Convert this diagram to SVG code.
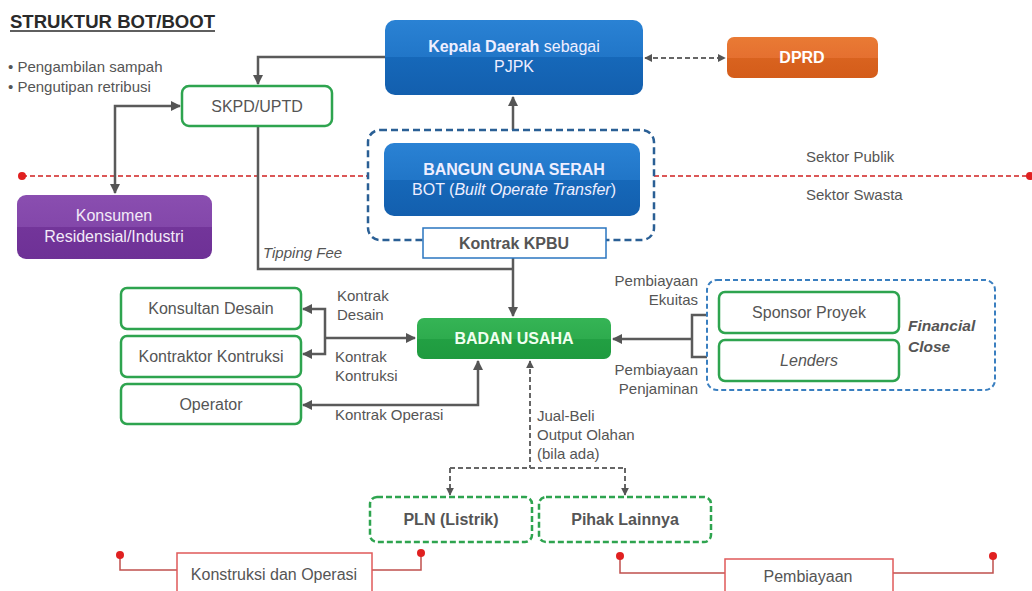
<svg xmlns="http://www.w3.org/2000/svg" width="1032" height="591" viewBox="0 0 1032 591">
<defs>
<linearGradient id="gBlue" x1="0" y1="0" x2="0" y2="1">
<stop offset="0" stop-color="#2a82d4"/><stop offset="0.5" stop-color="#2176c8"/><stop offset="0.5" stop-color="#1668b9"/><stop offset="1" stop-color="#135fae"/>
</linearGradient>
<linearGradient id="gOrange" x1="0" y1="0" x2="0" y2="1">
<stop offset="0" stop-color="#e97a34"/><stop offset="0.5" stop-color="#e57030"/><stop offset="0.5" stop-color="#d9631f"/><stop offset="1" stop-color="#d45c1a"/>
</linearGradient>
<linearGradient id="gPurple" x1="0" y1="0" x2="0" y2="1">
<stop offset="0" stop-color="#8a4eb0"/><stop offset="0.5" stop-color="#8347aa"/><stop offset="0.5" stop-color="#73359a"/><stop offset="1" stop-color="#6e3196"/>
</linearGradient>
<linearGradient id="gGreen" x1="0" y1="0" x2="0" y2="1">
<stop offset="0" stop-color="#35b455"/><stop offset="0.5" stop-color="#2eac4e"/><stop offset="0.5" stop-color="#22a043"/><stop offset="1" stop-color="#1f9a3f"/>
</linearGradient>
<marker id="ah" viewBox="0 0 10 10" refX="9" refY="5" markerWidth="4" markerHeight="4" orient="auto-start-reverse">
<path d="M0,0 L10,5 L0,10 z" fill="#555"/>
</marker>
<style>
text{font-family:"Liberation Sans",Arial,sans-serif;fill:#555;}
.conn{fill:none;stroke:#5a5a5a;stroke-width:2.5;}
.dconn{fill:none;stroke:#666;stroke-width:2;stroke-dasharray:5,3;}
.gbox{fill:#fff;stroke:#2ea44f;stroke-width:2.5;}
.gdash{fill:#fff;stroke:#2ea44f;stroke-width:2.5;stroke-dasharray:6,3;}
.rbox{fill:#fff;stroke:#e05a5a;stroke-width:1.5;}
.rline{fill:none;stroke:#c0504d;stroke-width:1.5;}
.lbl{font-size:15px;}
.nt{font-size:16px;text-anchor:middle;}
</style>
</defs>
<rect width="1032" height="591" fill="#fff"/>

<g id="title">
<text x="10" y="28" font-size="18" font-weight="bold" textLength="205" lengthAdjust="spacingAndGlyphs" style="fill:#2a2a2a">STRUKTUR BOT/BOOT</text>
<line x1="10" y1="31" x2="215" y2="31" stroke="#2a2a2a" stroke-width="1.5"/>
</g>
<g id="bullets">
<text x="8" y="72" class="lbl">• Pengambilan sampah</text>
<text x="8" y="92" class="lbl">• Pengutipan retribusi</text>
</g>

<g id="sector-divider">
<line x1="22" y1="176" x2="368" y2="176" stroke="#d02020" stroke-width="1.6" stroke-dasharray="5,3"/>
<line x1="654" y1="176" x2="1029" y2="176" stroke="#d02020" stroke-width="1.6" stroke-dasharray="5,3"/>
<circle cx="22" cy="176" r="4" fill="#e02020"/>
<circle cx="1030" cy="176" r="4" fill="#e02020"/>
<text x="806" y="162" class="lbl">Sektor Publik</text>
<text x="806" y="200" class="lbl">Sektor Swasta</text>
</g>

<g id="connectors">
<path class="conn" d="M385,57 H258 V84" marker-end="url(#ah)"/>
<path class="conn" d="M180,106 H115 V193" marker-start="url(#ah)" marker-end="url(#ah)"/>
<path class="conn" d="M513,130 V97" marker-end="url(#ah)"/>
<path class="conn" d="M258,126 V269 H513"/>
<path class="conn" d="M513,258 V316" marker-end="url(#ah)"/>
<path class="dconn" d="M645,58 H725" marker-start="url(#ah)" marker-end="url(#ah)"/>
<path class="conn" d="M325,338 H415" marker-end="url(#ah)"/>
<path class="conn" d="M303,309 H325 V354 H303" marker-start="url(#ah)" marker-end="url(#ah)"/>
<path class="conn" d="M478,361 V405 H303" marker-start="url(#ah)" marker-end="url(#ah)"/>
<path class="conn" d="M707,315 H692 V357 H707 M692,339 H613" marker-end="url(#ah)"/>
<path class="dconn" d="M530,361 V468" marker-start="url(#ah)"/>
<path class="dconn" d="M450,468 H625"/>
<path class="dconn" d="M450,468 V495" marker-end="url(#ah)"/>
<path class="dconn" d="M625,468 V495" marker-end="url(#ah)"/>
</g>

<g id="connector-labels">
<text x="263" y="258" class="lbl" font-style="italic">Tipping Fee</text>
<text x="337" y="301" class="lbl">Kontrak</text>
<text x="337" y="320" class="lbl">Desain</text>
<text x="335" y="362" class="lbl">Kontrak</text>
<text x="335" y="381" class="lbl">Kontruksi</text>
<text x="335" y="420" class="lbl">Kontrak Operasi</text>
<text x="537" y="421" class="lbl">Jual-Beli</text>
<text x="537" y="440" class="lbl">Output Olahan</text>
<text x="537" y="459" class="lbl">(bila ada)</text>
<text x="698" y="286" class="lbl" text-anchor="end">Pembiayaan</text>
<text x="698" y="305" class="lbl" text-anchor="end">Ekuitas</text>
<text x="698" y="375" class="lbl" text-anchor="end">Pembiayaan</text>
<text x="698" y="394" class="lbl" text-anchor="end">Penjaminan</text>
</g>

<g id="kepala-daerah">
<rect x="385" y="20" width="258" height="75" rx="10" fill="url(#gBlue)"/>
<text x="514" y="52" class="nt" style="fill:#eef"><tspan font-weight="bold">Kepala Daerah</tspan> sebagai</text>
<text x="514" y="72" class="nt" style="fill:#eef">PJPK</text>
</g>

<g id="dprd">
<rect x="727" y="37" width="151" height="41" rx="7" fill="url(#gOrange)"/>
<text x="802" y="63" class="nt" font-weight="bold" style="fill:#fff">DPRD</text>
</g>

<g id="skpd">
<rect x="182" y="86" width="150" height="40" rx="7" class="gbox"/>
<text x="257" y="112" class="nt">SKPD/UPTD</text>
</g>

<g id="konsumen">
<rect x="17" y="195" width="195" height="64" rx="9" fill="url(#gPurple)"/>
<text x="114" y="221" class="nt" style="fill:#f3eaf8">Konsumen</text>
<text x="114" y="242" class="nt" style="fill:#f3eaf8">Residensial/Industri</text>
</g>

<g id="bot">
<rect x="368" y="130" width="286" height="110" rx="12" fill="none" stroke="#2a5f95" stroke-width="2.5" stroke-dasharray="7,4"/>
<rect x="384" y="143" width="256" height="73" rx="10" fill="url(#gBlue)"/>
<text x="514" y="175" class="nt" font-weight="bold" style="fill:#eef">BANGUN GUNA SERAH</text>
<text x="514" y="195" class="nt" style="fill:#eef">BOT (<tspan font-style="italic">Built Operate Transfer</tspan>)</text>
</g>

<g id="kontrak-kpbu">
<rect x="423" y="228" width="183" height="30" fill="#fff" stroke="#2a76c0" stroke-width="1.5"/>
<text x="514" y="249" class="nt" font-weight="bold">Kontrak KPBU</text>
</g>

<g id="badan-usaha">
<rect x="417" y="318" width="194" height="41" rx="7" fill="url(#gGreen)"/>
<text x="514" y="344" class="nt" font-weight="bold" style="fill:#f0fff0">BADAN USAHA</text>
</g>

<g id="konsultan-desain">
<rect x="121" y="288" width="180" height="41" rx="6" class="gbox"/>
<text x="211" y="314" class="nt">Konsultan Desain</text>
</g>
<g id="kontraktor">
<rect x="121" y="336" width="180" height="41" rx="6" class="gbox"/>
<text x="211" y="362" class="nt">Kontraktor Kontruksi</text>
</g>
<g id="operator">
<rect x="121" y="384" width="180" height="40" rx="6" class="gbox"/>
<text x="211" y="410" class="nt">Operator</text>
</g>

<g id="financial-close">
<rect x="707" y="280" width="288" height="110" rx="10" fill="none" stroke="#3a7fc0" stroke-width="2" stroke-dasharray="5,3"/>
<text x="908" y="331" font-size="15.5" font-weight="bold" font-style="italic">Financial</text>
<text x="908" y="352" font-size="15.5" font-weight="bold" font-style="italic">Close</text>
</g>
<g id="sponsor">
<rect x="719" y="292" width="180" height="41" rx="6" class="gbox"/>
<text x="809" y="318" class="nt">Sponsor Proyek</text>
</g>
<g id="lenders">
<rect x="719" y="340" width="180" height="41" rx="6" class="gbox"/>
<text x="809" y="366" class="nt" font-style="italic">Lenders</text>
</g>

<g id="pln">
<rect x="370" y="497" width="162" height="45" rx="7" class="gdash"/>
<text x="451" y="525" class="nt" font-weight="bold">PLN (Listrik)</text>
</g>
<g id="pihak-lainnya">
<rect x="539" y="497" width="172" height="45" rx="7" class="gdash"/>
<text x="625" y="525" class="nt" font-weight="bold">Pihak Lainnya</text>
</g>

<g id="konstruksi-operasi">
<path class="rline" d="M120,555 V570 H177 M372,570 H421 V553"/>
<circle cx="120" cy="555" r="4" fill="#e02020"/>
<circle cx="421" cy="553" r="4" fill="#e02020"/>
<rect x="177" y="553" width="195" height="40" class="rbox"/>
<text x="274" y="580" class="nt" font-size="15.5">Konstruksi dan Operasi</text>
</g>
<g id="pembiayaan">
<path class="rline" d="M620,556 V573 H725 M893,573 H993 V556"/>
<circle cx="620" cy="556" r="4" fill="#e02020"/>
<circle cx="993" cy="556" r="4" fill="#e02020"/>
<rect x="725" y="559" width="168" height="36" class="rbox"/>
<text x="808" y="582" class="nt" font-size="15.5">Pembiayaan</text>
</g>
</svg>
